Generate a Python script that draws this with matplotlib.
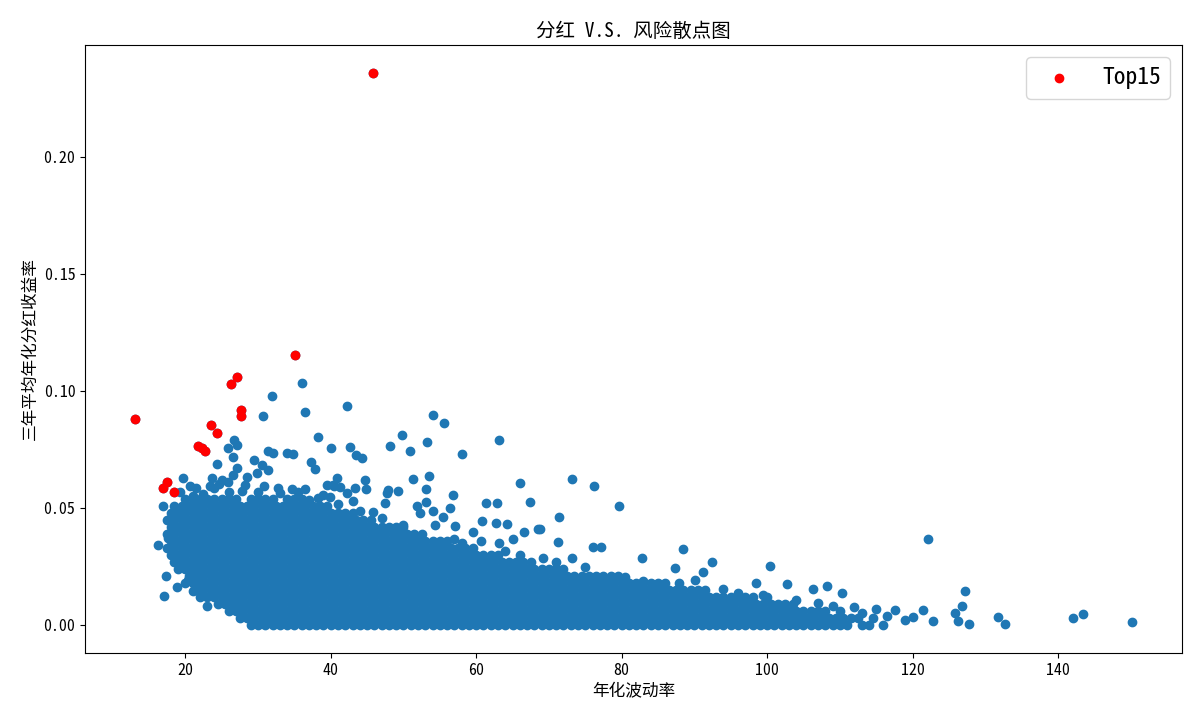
import matplotlib
matplotlib.use("Agg")
import matplotlib.pyplot as plt

plt.rcParams["font.family"] = ["Noto Sans Mono CJK SC", "Noto Sans CJK SC", "DejaVu Sans"]
plt.rcParams["axes.unicode_minus"] = False

# Top15 stocks (red)
top_x = [45.8, 35.1, 27.1, 26.3, 27.7, 27.7, 13.1, 23.6, 24.4, 21.8, 22.3, 22.7, 17.5, 17.0, 18.4]
top_y = [0.2362, 0.1156, 0.1063, 0.1032, 0.0921, 0.0896, 0.0883, 0.0857, 0.0823,
         0.0768, 0.0759, 0.0746, 0.0614, 0.0589, 0.0571]

# scattered stocks outside the dense cloud
sparse_x = [36.1, 31.9, 42.3, 30.7, 36.5, 54.1, 55.6, 49.8, 38.3, 53.3, 63.1, 40.1, 42.7, 48.1,
            50.9, 43.5, 44.3, 58.0, 26.7, 25.9, 27.1, 26.6, 24.4, 29.4, 31.4, 32.1, 34.0, 34.8,
            37.3, 37.8, 30.6, 31.4, 27.1, 23.7, 25.1, 26.6, 28.5, 29.9, 19.7, 40.9, 40.3, 41.3,
            66.0, 73.2, 76.2, 79.7, 67.4, 61.4, 62.9, 71.4, 68.8, 71.3, 76.1, 77.2, 88.5, 82.8,
            92.4, 100.4, 69.2, 73.2, 87.3, 102.8, 98.5, 90.1, 87.9, 91.2, 122.1, 106.3, 108.2,
            110.3, 127.2, 126.8, 127.8, 125.8, 126.3, 131.8, 132.7, 142.1, 143.4, 150.2, 121.4,
            122.8, 120.1, 119.0, 117.6, 51.3, 53.5, 53.1, 44.7, 40.5, 47.9, 49.3, 56.8, 43.4,
            56.4, 53.1, 51.8, 54.1, 55.5, 60.8, 62.7, 64.3, 57.1, 59.5, 66.6, 68.5, 65.1, 60.6,
            63.2, 45.8, 47.5, 47.8, 39.9, 43.0, 52.3, 54.4, 58.1, 23.4, 24.6, 25.9, 28.2, 30.8,
            32.8, 34.7, 36.4, 39.5, 42.2, 44.8, 38.9, 21.5, 20.7, 19.3, 17.0, 16.3, 17.4, 18.8,
            17.1, 23.0, 20.4, 21.1, 18.3, 17.6, 80.5, 83.0, 85.0, 94.0, 96.0, 99.5, 104.0,
            107.0, 109.0, 75.0, 71.0, 66.0, 64.0, 113.0, 115.0, 116.5, 112.0, 57.0, 50.0, 47.0,
            44.0, 41.0, 37.0, 35.5, 30.0, 26.0, 22.5, 33.0, 27.8, 24.0, 38.2, 21.0]
sparse_y = [0.1036, 0.098, 0.0938, 0.0896, 0.0913, 0.090, 0.0866, 0.0815, 0.0806, 0.0785, 0.0793,
            0.0759, 0.0763, 0.0768, 0.0746, 0.073, 0.0716, 0.0733, 0.0793, 0.0759, 0.0772, 0.0721,
            0.0691, 0.0708, 0.0746, 0.0738, 0.0738, 0.0733, 0.0699, 0.0667, 0.0687, 0.0665, 0.0674,
            0.0631, 0.0623, 0.0644, 0.0635, 0.0652, 0.0631, 0.0631, 0.0601, 0.0593, 0.061, 0.0627,
            0.0597, 0.0512, 0.0529, 0.0525, 0.0525, 0.0465, 0.041, 0.0358, 0.0333, 0.0333, 0.0328,
            0.0286, 0.027, 0.0252, 0.0286, 0.029, 0.0247, 0.0175, 0.0183, 0.0196, 0.0183, 0.023,
            0.0371, 0.0154, 0.0167, 0.0137, 0.0145, 0.0085, 0.0004, 0.0055, 0.0017, 0.0034, 0.0004,
            0.003, 0.0047, 0.0013, 0.0064, 0.0017, 0.0034, 0.0021, 0.0064, 0.0627, 0.064, 0.0584,
            0.0623, 0.0597, 0.058, 0.0576, 0.0559, 0.0588, 0.0503, 0.0529, 0.0512, 0.049, 0.0465,
            0.0448, 0.0439, 0.0435, 0.0426, 0.0401, 0.0397, 0.0414, 0.0371, 0.0362, 0.035, 0.0486,
            0.0525, 0.0567, 0.055, 0.0533, 0.0482, 0.0431, 0.0354, 0.0595, 0.0606, 0.0614, 0.0601,
            0.0597, 0.0588, 0.0584, 0.0584, 0.0601, 0.0567, 0.0584, 0.0559, 0.0588, 0.0597, 0.057,
            0.0512, 0.0345, 0.0209, 0.0162, 0.0124, 0.0085, 0.0196, 0.0145, 0.0465, 0.0375,
            0.0205, 0.019, 0.0175, 0.0155, 0.014, 0.013, 0.011, 0.0095, 0.0085, 0.025, 0.027,
            0.030, 0.032, 0.0055, 0.007, 0.004, 0.008, 0.037, 0.043, 0.046, 0.049, 0.052, 0.0535,
            0.057, 0.057, 0.057, 0.056, 0.0565, 0.0575, 0.0585, 0.0545, 0.0555]

# dense cloud: dividend yield level of each row and the volatilities read along it
dense_levels = [0.000, 0.003, 0.006, 0.009, 0.012, 0.015, 0.018, 0.021, 0.024, 0.027,
                0.030, 0.033, 0.036, 0.039, 0.042, 0.045, 0.048, 0.051, 0.054]
dense_rows = [
    "29 30 31 32 33 34 35 36 37 38 39 40 41 42 43 44 45 46 47 48 49 50 51 52 53 54 55 56 57 58 "
    "59 60 61 62 63 64 65 66 67 68 69 70 71 72 73 74 75 76 77 78 79 80 81 82 83 84 85 86 87 88 "
    "89 90 91 92 93 94 95 96 97 98 99 100 101 102 103 104 105 106 107 108 109 110 111 113 114 116",
    "27.5 28.5 29.5 30.5 31.5 32.5 33.5 34.5 35.5 36.5 37.5 38.5 39.5 40.5 41.5 42.5 43.5 44.5 "
    "45.5 46.5 47.5 48.5 49.5 50.5 51.5 52.5 53.5 54.5 55.5 56.5 57.5 58.5 59.5 60.5 61.5 62.5 "
    "63.5 64.5 65.5 66.5 67.5 68.5 69.5 70.5 71.5 72.5 73.5 74.5 75.5 76.5 77.5 78.5 79.5 80.5 "
    "81.5 82.5 83.5 84.5 85.5 86.5 87.5 88.5 89.5 90.5 91.5 92.5 93.5 94.5 95.5 96.5 97.5 98.5 "
    "99.5 100.5 101.5 102.5 103.5 104.5 105.5 106.5 107.5 108.5 109.5 110.5 111.5 112.5 114.5",
    "26 27 28 29 30 31 32 33 34 35 36 37 38 39 40 41 42 43 44 45 46 47 48 49 50 51 52 53 54 55 "
    "56 57 58 59 60 61 62 63 64 65 66 67 68 69 70 71 72 73 74 75 76 77 78 79 80 81 82 83 84 85 "
    "86 87 88 89 90 91 92 93 94 95 96 97 98 99 100 101 102 103 104 105 106 107 108 110",
    "24.5 25.5 26.5 27.5 28.5 29.5 30.5 31.5 32.5 33.5 34.5 35.5 36.5 37.5 38.5 39.5 40.5 41.5 "
    "42.5 43.5 44.5 45.5 46.5 47.5 48.5 49.5 50.5 51.5 52.5 53.5 54.5 55.5 56.5 57.5 58.5 59.5 "
    "60.5 61.5 62.5 63.5 64.5 65.5 66.5 67.5 68.5 69.5 70.5 71.5 72.5 73.5 74.5 75.5 76.5 77.5 "
    "78.5 79.5 80.5 81.5 82.5 83.5 84.5 85.5 86.5 87.5 88.5 89.5 90.5 91.5 92.5 93.5 94.5 95.5 "
    "96.5 97.5 98.5 99.5 100.5 101.5 102.5 103.5",
    "22 23 24 25 26 27 28 29 30 31 32 33 34 35 36 37 38 39 40 41 42 43 44 45 46 47 48 49 50 51 "
    "52 53 54 55 56 57 58 59 60 61 62 63 64 65 66 67 68 69 70 71 72 73 74 75 76 77 78 79 80 81 "
    "82 83 84 85 86 87 88 89 90 91 92 93 94 95 96 97 98 100",
    "21.5 22.5 23.5 24.5 25.5 26.5 27.5 28.5 29.5 30.5 31.5 32.5 33.5 34.5 35.5 36.5 37.5 38.5 "
    "39.5 40.5 41.5 42.5 43.5 44.5 45.5 46.5 47.5 48.5 49.5 50.5 51.5 52.5 53.5 54.5 55.5 56.5 "
    "57.5 58.5 59.5 60.5 61.5 62.5 63.5 64.5 65.5 66.5 67.5 68.5 69.5 70.5 71.5 72.5 73.5 74.5 "
    "75.5 76.5 77.5 78.5 79.5 80.5 81.5 82.5 83.5 84.5 85.5 86.5 87.5 88.5 89.5 90.5 91.5",
    "20 21 22 23 24 25 26 27 28 29 30 31 32 33 34 35 36 37 38 39 40 41 42 43 44 45 46 47 48 49 "
    "50 51 52 53 54 55 56 57 58 59 60 61 62 63 64 65 66 67 68 69 70 71 72 73 74 75 76 77 78 79 "
    "80 81 82 83 84 85 86",
    "20.5 21.5 22.5 23.5 24.5 25.5 26.5 27.5 28.5 29.5 30.5 31.5 32.5 33.5 34.5 35.5 36.5 37.5 "
    "38.5 39.5 40.5 41.5 42.5 43.5 44.5 45.5 46.5 47.5 48.5 49.5 50.5 51.5 52.5 53.5 54.5 55.5 "
    "56.5 57.5 58.5 59.5 60.5 61.5 62.5 63.5 64.5 65.5 66.5 67.5 68.5 69.5 70.5 71.5 72.5 73.5 "
    "74.5 75.5 76.5 77.5 78.5 79.5",
    "19 20 21 22 23 24 25 26 27 28 29 30 31 32 33 34 35 36 37 38 39 40 41 42 43 44 45 46 47 48 "
    "49 50 51 52 53 54 55 56 57 58 59 60 61 62 63 64 65 66 67 68 69 70 71 72",
    "18.5 19.5 20.5 21.5 22.5 23.5 24.5 25.5 26.5 27.5 28.5 29.5 30.5 31.5 32.5 33.5 34.5 35.5 "
    "36.5 37.5 38.5 39.5 40.5 41.5 42.5 43.5 44.5 45.5 46.5 47.5 48.5 49.5 50.5 51.5 52.5 53.5 "
    "54.5 55.5 56.5 57.5 58.5 59.5 60.5 61.5 62.5 63.5 64.5 65.5 66.5 67.5",
    "18 19 20 21 22 23 24 25 26 27 28 29 30 31 32 33 34 35 36 37 38 39 40 41 42 43 44 45 46 47 "
    "48 49 50 51 52 53 54 55 56 57 58 59 60 61 62 63",
    "17.5 18.5 19.5 20.5 21.5 22.5 23.5 24.5 25.5 26.5 27.5 28.5 29.5 30.5 31.5 32.5 33.5 34.5 "
    "35.5 36.5 37.5 38.5 39.5 40.5 41.5 42.5 43.5 44.5 45.5 46.5 47.5 48.5 49.5 50.5 51.5 52.5 "
    "53.5 54.5 55.5 56.5 57.5 58.5 59.5",
    "18 19 20 21 22 23 24 25 26 27 28 29 30 31 32 33 34 35 36 37 38 39 40 41 42 43 44 45 46 47 "
    "48 49 50 51 52 53 54 55 56",
    "17.5 18.5 19.5 20.5 21.5 22.5 23.5 24.5 25.5 26.5 27.5 28.5 29.5 30.5 31.5 32.5 33.5 34.5 "
    "35.5 36.5 37.5 38.5 39.5 40.5 41.5 42.5 43.5 44.5 45.5 46.5 47.5 48.5 49.5 50.5 51.5 52.5",
    "18 19 20 21 22 23 24 25 26 27 28 29 30 31 32 33 34 35 36 37 38 39 40 41 42 43 44 45 46 47 "
    "48 49 50",
    "17.5 18.5 19.5 20.5 21.5 22.5 23.5 24.5 25.5 26.5 27.5 28.5 29.5 30.5 31.5 32.5 33.5 34.5 "
    "35.5 36.5 37.5 38.5 39.5 40.5 41.5 42.5 43.5 44.5 45.5",
    "18 19 20 21 22 23 24 25 26 27 28 29 30 31 32 33 34 35 36 37 38 39 40 41 42 43",
    "18.5 19.5 20.5 21.5 22.5 23.5 24.5 25.5 26.5 27.5 28.5 29.5 30.5 31.5 32.5 33.5 34.5 35.5 "
    "36.5 37.5 38.5 39.5",
    "20 21 22 23 24 25 26 27 29 30 31 32 34 35 36",
]


def all_points():
    xs, ys = [], []
    for level, row in zip(dense_levels, dense_rows):
        for v in row.split():
            xs.append(float(v))
            ys.append(level)
    xs += sparse_x
    ys += sparse_y
    xs += top_x
    ys += top_y
    return xs, ys


def main():
    fig, ax = plt.subplots(figsize=(12, 7.2), dpi=100)
    fig.subplots_adjust(left=0.071, right=0.985, bottom=0.093, top=0.9375)

    xs, ys = all_points()
    ax.scatter(xs, ys, color="#1f77b4")
    ax.scatter(top_x, top_y, color="red", label="Top15")

    ax.set_title("分红 V.S. 风险散点图", fontsize=14)
    ax.set_xlabel("年化波动率", fontsize=12)
    ax.set_ylabel("三年平均年化分红收益率", fontsize=12)
    ax.tick_params(labelsize=11.5)
    ax.legend(loc="upper right", prop={"size": 17})

    fig.savefig("out.png", dpi=100)


if __name__ == "__main__":
    main()
